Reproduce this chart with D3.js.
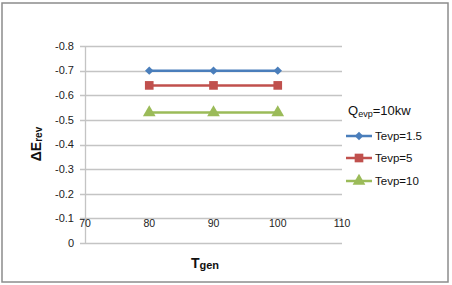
<!DOCTYPE html>
<html>
<head>
<meta charset="utf-8">
<script src="https://cdn.jsdelivr.net/npm/d3@7"></script>
<style>
  body { margin: 0; background: #fff; }
  svg { display: block; font-family: "Liberation Sans", Arial, sans-serif; }
</style>
</head>
<body>
<div id="container"></div>
<script>
// data
var tgen = [80, 90, 100];
var tevp15 = [-0.70, -0.70, -0.70];
var tevp5 = [-0.64, -0.64, -0.64];
var tevp10 = [-0.53, -0.53, -0.53];
var seriesNames = ["Tevp=1.5", "Tevp=5", "Tevp=10"];
var xTicks = [70, 80, 90, 100, 110];
var yTicks = [0, -0.1, -0.2, -0.3, -0.4, -0.5, -0.6, -0.7, -0.8];

var W = 452, H = 285;
var svg = d3.select('#container').append('svg').attr('width', W).attr('height', H);

// outer frame
svg.append('rect').attr('x', 2).attr('y', 3).attr('width', 446).attr('height', 279)
  .attr('fill', '#fff').attr('stroke', '#8c8c8c').attr('stroke-width', 1.5);

var xScale = d3.scaleLinear().domain([70, 110]).range([85, 342]);
var yScale = d3.scaleLinear().domain([0, -0.8]).range([243, 46]);

// gridlines
svg.append('g').selectAll('line').data(yTicks).join('line')
  .attr('x1', 80).attr('x2', xScale(110))
  .attr('y1', function(d){ return Math.round(yScale(d)) + 0.5; })
  .attr('y2', function(d){ return Math.round(yScale(d)) + 0.5; })
  .attr('stroke', '#c4c4c4').attr('stroke-width', 1.3);

// y axis line
svg.append('line').attr('x1', 85.5).attr('x2', 85.5)
  .attr('y1', yScale(-0.8)).attr('y2', yScale(0))
  .attr('stroke', '#c4c4c4').attr('stroke-width', 1.3);

// y labels
svg.append('g').selectAll('text').data(yTicks).join('text')
  .attr('x', 74).attr('y', function(d){ return yScale(d); })
  .attr('dy', '0.35em').attr('text-anchor', 'end')
  .attr('font-size', 11).attr('fill', '#222')
  .text(function(d){ return d === 0 ? '0' : d.toFixed(1); });

// x labels (sit under the -0.1 line)
svg.append('g').selectAll('text').data(xTicks).join('text')
  .attr('x', function(d){ return xScale(d); })
  .attr('y', yScale(-0.1) + 9)
  .attr('text-anchor', 'middle')
  .attr('font-size', 10.5).attr('fill', '#222')
  .text(function(d){ return d; });

// axis titles
var xt = svg.append('text').attr('x', 205).attr('y', 268).attr('text-anchor', 'middle')
  .attr('font-weight', 'bold').attr('fill', '#111');
xt.append('tspan').attr('font-size', 14).text('T');
xt.append('tspan').attr('font-size', 11).attr('dy', 1).text('gen');

var yt = svg.append('text').attr('transform', 'translate(41,144) rotate(-90)')
  .attr('text-anchor', 'middle').attr('font-weight', 'bold').attr('fill', '#111');
yt.append('tspan').attr('font-size', 14).text('ΔE');
yt.append('tspan').attr('font-size', 10).attr('dy', 1).text('rev');

// series
var colors = ['#4a7ebb', '#c0504d', '#9bbb59'];
var series = [tevp15, tevp5, tevp10];
var shapes = [d3.symbolSquare, d3.symbolSquare, d3.symbolTriangle];
var sizes = [36, 75, 70];
var rot = [45, 0, 0];

var line = d3.line()
  .x(function(d, i){ return xScale(tgen[i]); })
  .y(function(d){ return yScale(d); });

series.forEach(function(s, k){
  svg.append('path').datum(s).attr('d', line)
    .attr('fill', 'none').attr('stroke', colors[k]).attr('stroke-width', 2.5);
  svg.append('g').selectAll('path').data(s).join('path')
    .attr('transform', function(d, i){ return 'translate(' + xScale(tgen[i]) + ',' + yScale(d) + ') rotate(' + rot[k] + ')'; })
    .attr('d', d3.symbol().type(shapes[k]).size(sizes[k]))
    .attr('fill', colors[k]);
});

// legend
var lt = svg.append('text').attr('x', 348).attr('y', 115).attr('fill', '#111');
lt.append('tspan').attr('font-size', 13).text('Q');
lt.append('tspan').attr('font-size', 9).attr('dy', 2).text('evp');
lt.append('tspan').attr('font-size', 13).attr('dy', -2).text('=10kw');

var legendY = [136, 158, 181];
seriesNames.forEach(function(n, k){
  var g = svg.append('g').attr('transform', 'translate(346,' + legendY[k] + ')');
  g.append('line').attr('x1', 0).attr('x2', 26).attr('stroke', colors[k]).attr('stroke-width', 2.5);
  g.append('path').attr('transform', 'translate(13,0) rotate(' + rot[k] + ')')
    .attr('d', d3.symbol().type(shapes[k]).size(sizes[k])).attr('fill', colors[k]);
  g.append('text').attr('x', 29).attr('dy', '0.35em').attr('font-size', 11.5).attr('fill', '#111').text(n);
});
</script>
</body>
</html>
